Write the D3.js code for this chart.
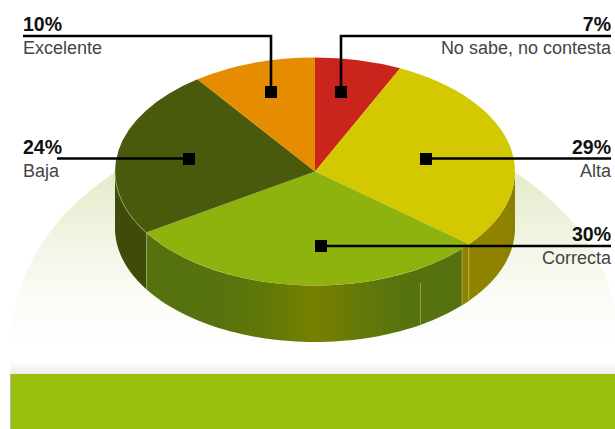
<!DOCTYPE html>
<html lang="es">
<head>
<meta charset="utf-8">
<script src="https://cdn.jsdelivr.net/npm/d3@7"></script>
<style>
  html, body { margin: 0; padding: 0; background: #fff; }
  svg { display: block; }
  text { font-family: "Liberation Sans", Arial, sans-serif; }
</style>
</head>
<body>
<svg id="chart" width="615" height="429"></svg>
<script>
// Survey answers, clockwise from twelve o'clock
const categories = ["No sabe, no contesta", "Alta", "Correcta", "Baja", "Excelente"];
const shares = [7, 29, 30, 24, 10];
const faceColors = ["#cb241c", "#d4c900", "#8fb30e", "#4a5a0c", "#e58c00"];

const width = 615, height = 429;
const cx = 315, cy = 171.5, rx = 200, ry = 114, depth = 56.5;
const svg = d3.select("#chart");
const defs = svg.append("defs");

// Gradient helper
function gradient(id, attrs, stops) {
  const g = defs.append("linearGradient").attr("id", id).attr("gradientUnits", "userSpaceOnUse");
  Object.entries(attrs).forEach(([k, v]) => g.attr(k, v));
  stops.forEach(([o, c]) => g.append("stop").attr("offset", o).attr("stop-color", c));
}
gradient("dome", { x1: 0, y1: 117, x2: 0, y2: 348 }, [
  [0, "#dfe9bf"], [0.25, "#e4ecca"], [0.55, "#f2f5e6"], [0.8, "#fbfcf7"], [1, "#ffffff"]
]);
gradient("shade", { x1: 0, y1: 362, x2: 0, y2: 374 }, [[0, "#ffffff"], [1, "#ececec"]]);
gradient("wall-correcta", { x1: 147, y1: 0, x2: 469, y2: 0 }, [
  [0, "#55720f"], [0.2, "#55720f"], [0.38, "#627808"], [0.52, "#778000"], [0.66, "#647908"],
  [0.82, "#55720f"], [0.977, "#55720f"], [0.978, "#8f8300"], [1, "#8f8300"]
]);
gradient("wall-alta", { x1: 469, y1: 0, x2: 515, y2: 0 }, [[0, "#8f8300"], [0.7, "#8f8300"], [1, "#8a8000"]]);
const wallFills = ["none", "url(#wall-alta)", "url(#wall-correcta)", "#3f4b08", "none"];

// Backdrop: pale dome and the band along the bottom
svg.append("ellipse")
  .attr("cx", 315).attr("cy", 340).attr("rx", 303).attr("ry", 223)
  .attr("fill", "url(#dome)");
svg.append("rect").attr("x", 0).attr("y", 345).attr("width", width).attr("height", 30).attr("fill", "#fff");
svg.append("rect").attr("x", 10).attr("y", 362).attr("width", width - 10).attr("height", 12).attr("fill", "url(#shade)");
svg.append("rect").attr("x", 10).attr("y", 374).attr("width", 1).attr("height", 55).attr("fill", "#b9b9c4");
svg.append("rect").attr("x", 11).attr("y", 374).attr("width", width - 11).attr("height", 55).attr("fill", "#98c00c");

// Slice angles
const pie = d3.pie().sort(null).value(d => d)(shares);
const px = a => cx + rx * Math.sin(a);
const py = a => cy - ry * Math.cos(a);

// Side wall: only the arc facing the viewer is visible
const wallArea = d3.area()
  .x(a => px(a))
  .y0(a => py(a))
  .y1(a => py(a) + depth);
const walls = svg.append("g");
pie.forEach((p, i) => {
  const a0 = Math.max(p.startAngle, Math.PI / 2);
  const a1 = Math.min(p.endAngle, 3 * Math.PI / 2);
  if (a1 <= a0) return;
  const steps = d3.range(0, 61).map(k => a0 + (a1 - a0) * k / 60);
  walls.append("path").attr("d", wallArea(steps)).attr("fill", wallFills[i]);
});

// Pale seams on the wall
const seam = (x, y0, y1) => walls.append("line")
  .attr("x1", x).attr("x2", x).attr("y1", y0).attr("y2", y1)
  .attr("stroke", "#c4c98e").attr("stroke-opacity", 0.55).attr("stroke-width", 1);
const wallEdge = a => [py(a), py(a) + depth];
seam(px(pie[2].endAngle) + 0.5, ...wallEdge(pie[2].endAngle));
seam(462, 249, 306);
seam(468.5, 245, 300);
seam(420.5, 283, 324);

// Top face: a circular arc squashed into an ellipse
const arc = d3.arc().innerRadius(0).outerRadius(rx);
svg.append("g")
  .attr("transform", `translate(${cx},${cy}) scale(1,${ry / rx})`)
  .selectAll("path")
  .data(pie)
  .join("path")
  .attr("d", arc)
  .attr("fill", (d, i) => faceColors[i]);

// Fine highlight along the rim of the Baja slice
const rim = d3.line().x(px).y(py);
const rimAngles = d3.range(0, 31).map(k => pie[2].endAngle + (3 * Math.PI / 2 - pie[2].endAngle) * k / 30);
svg.append("path").attr("d", rim(rimAngles)).attr("fill", "none")
  .attr("stroke", "#a9b27a").attr("stroke-width", 0.6);

// Callouts: leader route, marker and text placement for each category
const callouts = [
  { route: [[341, 36], [611, 36]], marker: [341, 92], labelX: 611, anchor: "end", y: 31 },
  { route: [[426, 158.5], [611, 158.5]], marker: [426, 159], labelX: 611, anchor: "end", y: 154 },
  { route: [[321, 246], [611, 246]], marker: [321, 246], labelX: 611, anchor: "end", y: 241 },
  { route: [[189, 158.5], [57, 158.5]], marker: [189, 159], labelX: 23, anchor: "start", y: 154 },
  { route: [[271, 36], [23, 36]], marker: [271, 92], labelX: 23, anchor: "start", y: 31 }
];
const leader = d3.line();
callouts.forEach((c, i) => {
  const g = svg.append("g");
  g.append("path")
    .attr("d", leader([c.marker, [c.marker[0], c.route[0][1]], c.route[1]]))
    .attr("fill", "none").attr("stroke", "#000").attr("stroke-width", 2.6);
  g.append("rect")
    .attr("x", c.marker[0] - 6).attr("y", c.marker[1] - 6)
    .attr("width", 12).attr("height", 12).attr("fill", "#000");
  g.append("text")
    .attr("x", c.labelX).attr("y", c.y).attr("text-anchor", c.anchor)
    .attr("font-size", 19.5).attr("font-weight", 700).attr("fill", "#111")
    .text(shares[i] + "%");
  g.append("text")
    .attr("x", c.labelX).attr("y", c.y + 23).attr("text-anchor", c.anchor)
    .attr("font-size", 18).attr("fill", "#444")
    .text(categories[i]);
});
</script>
</body>
</html>
